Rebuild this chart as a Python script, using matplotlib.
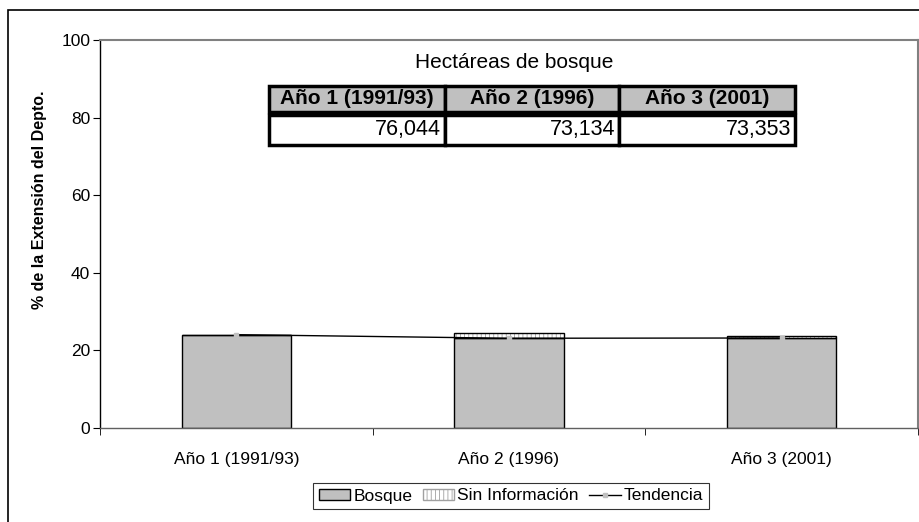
import matplotlib.pyplot as plt
from matplotlib.patches import Rectangle
from matplotlib.lines import Line2D
import numpy as np

plt.rcParams['font.family'] = ['Liberation Sans', 'DejaVu Sans']
plt.rcParams['hatch.linewidth'] = 0.6

# data
categories = ["Año 1 (1991/93)", "Año 2 (1996)", "Año 3 (2001)"]
bosque = [24.05, 23.13, 23.20]
sin_info = [0.0, 1.3, 0.5]
tendencia = [24.05, 23.13, 23.20]
hectareas = ["76,044", "73,134", "73,353"]

W, H = 919, 522
fig = plt.figure(figsize=(W / 100, H / 100), dpi=100)

def fx(px):
    return px / W

def fy(py):
    return (H - py) / H

# outer chart border
fig.patches.append(Rectangle((fx(8), fy(530)), fx(930) - fx(8), fy(10) - fy(530),
                             transform=fig.transFigure, fill=False,
                             edgecolor='black', linewidth=1.2))

ax = fig.add_axes([fx(100), fy(428), fx(918) - fx(100), fy(40) - fy(428)])

x = np.arange(len(categories))
ax.bar(x, bosque, width=0.4, color='#c0c0c0', edgecolor='black', linewidth=1, label='Bosque')
ax.bar(x, sin_info, width=0.4, bottom=bosque, color='white', edgecolor='#a0a0a0',
       hatch='||||', linewidth=0)
ax.bar(x, sin_info, width=0.4, bottom=bosque, fill=False, edgecolor='black', linewidth=1)
ax.plot(x, tendencia, color='black', linewidth=1, marker='s', markersize=3,
        markerfacecolor='#c0c0c0', markeredgecolor='#c0c0c0')

ax.set_xlim(-0.5, 2.5)
ax.set_ylim(0, 100)
ax.set_yticks(range(0, 101, 20))
ax.set_xticks(x)
ax.set_xticklabels(categories, fontsize=12.5)
ax.set_xticks([-0.5, 0.5, 1.5, 2.5], minor=True)
ax.tick_params(axis='x', which='major', length=0, pad=17)
ax.tick_params(axis='x', which='minor', length=5, direction='out')
ax.tick_params(axis='y', labelsize=12.5, length=5, direction='out', pad=2)

fig.text(fx(40), fy(200), '% de la Extensión del Depto.', rotation=90,
         ha='center', va='center', fontsize=11.5, fontweight='bold')

for s in ['top', 'right']:
    ax.spines[s].set_color('#808080')
    ax.spines[s].set_linewidth(1.5)
ax.spines['left'].set_linewidth(1)
ax.spines['bottom'].set_linewidth(1)
ax.spines['bottom'].set_color('#606060')

# inset table of hectares
cols = [269, 445, 619, 795]
fig.text(fx(514), fy(62), 'Hectáreas de bosque', ha='center', va='center', fontsize=15)
for i in range(3):
    x0, x1 = cols[i], cols[i + 1]
    fig.patches.append(Rectangle((fx(x0), fy(112)), fx(x1) - fx(x0), fy(86) - fy(112),
                                 transform=fig.transFigure, facecolor='#c0c0c0',
                                 edgecolor='black', linewidth=2.5))
    fig.patches.append(Rectangle((fx(x0), fy(145)), fx(x1) - fx(x0), fy(115) - fy(145),
                                 transform=fig.transFigure, facecolor='white',
                                 edgecolor='black', linewidth=2.5))
    fig.text(fx((x0 + x1) / 2), fy(99), categories[i], ha='center', va='center',
             fontsize=15, fontweight='bold')
    fig.text(fx(x1 - 4), fy(130), hectareas[i], ha='right', va='center', fontsize=15.5)

# legend
handles = [
    Rectangle((0, 0), 1, 1, facecolor='#c0c0c0', edgecolor='black', linewidth=1),
    Rectangle((0, 0), 1, 1, facecolor='white', edgecolor='#a0a0a0', hatch='||||', linewidth=1),
    Line2D([], [], color='black', linewidth=1, marker='s', markersize=3,
           markerfacecolor='#c0c0c0', markeredgecolor='#c0c0c0'),
]
leg = fig.legend(handles, ['Bosque', 'Sin Información', 'Tendencia'], loc='center',
                 bbox_to_anchor=(fx(511), fy(496)), ncol=3, fontsize=12.5,
                 frameon=True, fancybox=False, edgecolor='black', handlelength=1.8,
                 handleheight=0.55, handletextpad=0.2, columnspacing=0.6,
                 borderpad=0.3)
leg.get_frame().set_linewidth(0.8)

fig.savefig('out.png', dpi=100)
